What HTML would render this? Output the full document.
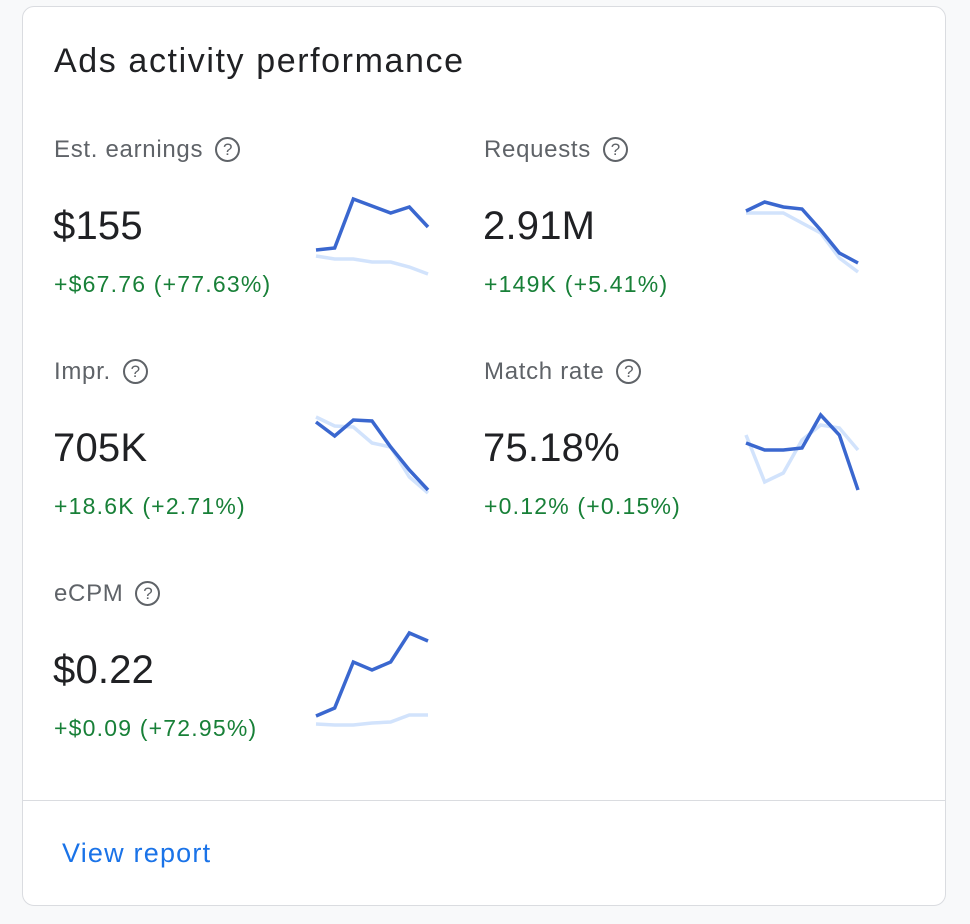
<!DOCTYPE html>
<html><head><meta charset="utf-8"><style>
body{margin:0;width:970px;height:924px;background:#f8f9fa;font-family:"Liberation Sans",Arial,sans-serif;position:relative;overflow:hidden}
.card{position:absolute;left:22px;top:6px;width:922px;height:898px;background:#fff;border:1px solid #dadce0;border-radius:12px}
.t{position:absolute;white-space:nowrap}
.title{left:54px;top:42px;font-size:34px;letter-spacing:1.6px;color:#202124}
.lbl{font-size:24px;letter-spacing:0.7px;color:#5f6368}
.q{display:inline-block;width:21px;height:21px;border:2px solid #5f6368;border-radius:50%;font-size:17px;line-height:21px;text-align:center;margin-left:12px;vertical-align:2px;letter-spacing:0}
.val{font-size:40px;color:#202124;letter-spacing:0.2px}
.dl{font-size:23px;letter-spacing:1.2px;color:#188038}
.div{position:absolute;left:22px;top:800px;width:924px;height:1px;background:#dadce0}
.link{left:62px;top:838px;font-size:27px;letter-spacing:1.2px;color:#1a73e8}
svg{position:absolute;left:0;top:0}
</style></head><body>
<div class="card"></div>
<div class="t title">Ads activity performance</div>

<div class="t lbl" style="left:54px;top:136px">Est. earnings<span class="q">?</span></div>
<div class="t val" style="left:53px;top:204px">$155</div>
<div class="t dl" style="left:54px;top:271px">+$67.76 (+77.63%)</div>

<div class="t lbl" style="left:484px;top:136px">Requests<span class="q">?</span></div>
<div class="t val" style="left:483px;top:204px">2.91M</div>
<div class="t dl" style="left:484px;top:271px">+149K (+5.41%)</div>

<div class="t lbl" style="left:54px;top:358px">Impr.<span class="q">?</span></div>
<div class="t val" style="left:53px;top:426px">705K</div>
<div class="t dl" style="left:54px;top:493px">+18.6K (+2.71%)</div>

<div class="t lbl" style="left:484px;top:358px">Match rate<span class="q">?</span></div>
<div class="t val" style="left:483px;top:426px">75.18%</div>
<div class="t dl" style="left:484px;top:493px">+0.12% (+0.15%)</div>

<div class="t lbl" style="left:54px;top:580px">eCPM<span class="q">?</span></div>
<div class="t val" style="left:53px;top:648px">$0.22</div>
<div class="t dl" style="left:54px;top:715px">+$0.09 (+72.95%)</div>

<div class="div"></div>
<div class="t link">View report</div>

<svg id="sp" width="970" height="924"></svg>
<script>
const earningsCur=[40,42,91,84,77,83,63];
const earningsPrev=[34,31,31,28,28,23,16];
const requestsCur=[79,88,83,81,60,37,27];
const requestsPrev=[77,77,77,67,57,32,18];
const imprCur=[88,74,90,89,63,40,20];
const imprPrev=[93,84,83,67,63,33,17];
const matchCur=[67,60,60,62,95,75,20];
const matchPrev=[75,28,37,70,85,82,60];
const ecpmCur=[9,17,63,55,63,92,84];
const ecpmPrev=[1,0,0,2,3,10,10];
const svg=document.getElementById('sp');
const NS='http://www.w3.org/2000/svg';
function draw(name,cur,prev,x0,bottom){
  const xs=i=>x0+i*112/(cur.length-1);
  const ys=v=>bottom-v;
  [[prev,'#d2e3fc','prev'],[cur,'#3a67cf','cur']].forEach(([d,c,k])=>{
    const p=document.createElementNS(NS,'polyline');
    p.setAttribute('points',d.map((v,i)=>xs(i)+','+ys(v)).join(' '));
    p.setAttribute('fill','none');p.setAttribute('stroke',c);p.setAttribute('stroke-width','3.5');
    
    
    svg.appendChild(p);
  });
}
draw('earnings',earningsCur,earningsPrev,316,290);
draw('requests',requestsCur,requestsPrev,746,290);
draw('impr',imprCur,imprPrev,316,510);
draw('match-rate',matchCur,matchPrev,746,510);
draw('ecpm',ecpmCur,ecpmPrev,316,725);
</script>
</body></html>
